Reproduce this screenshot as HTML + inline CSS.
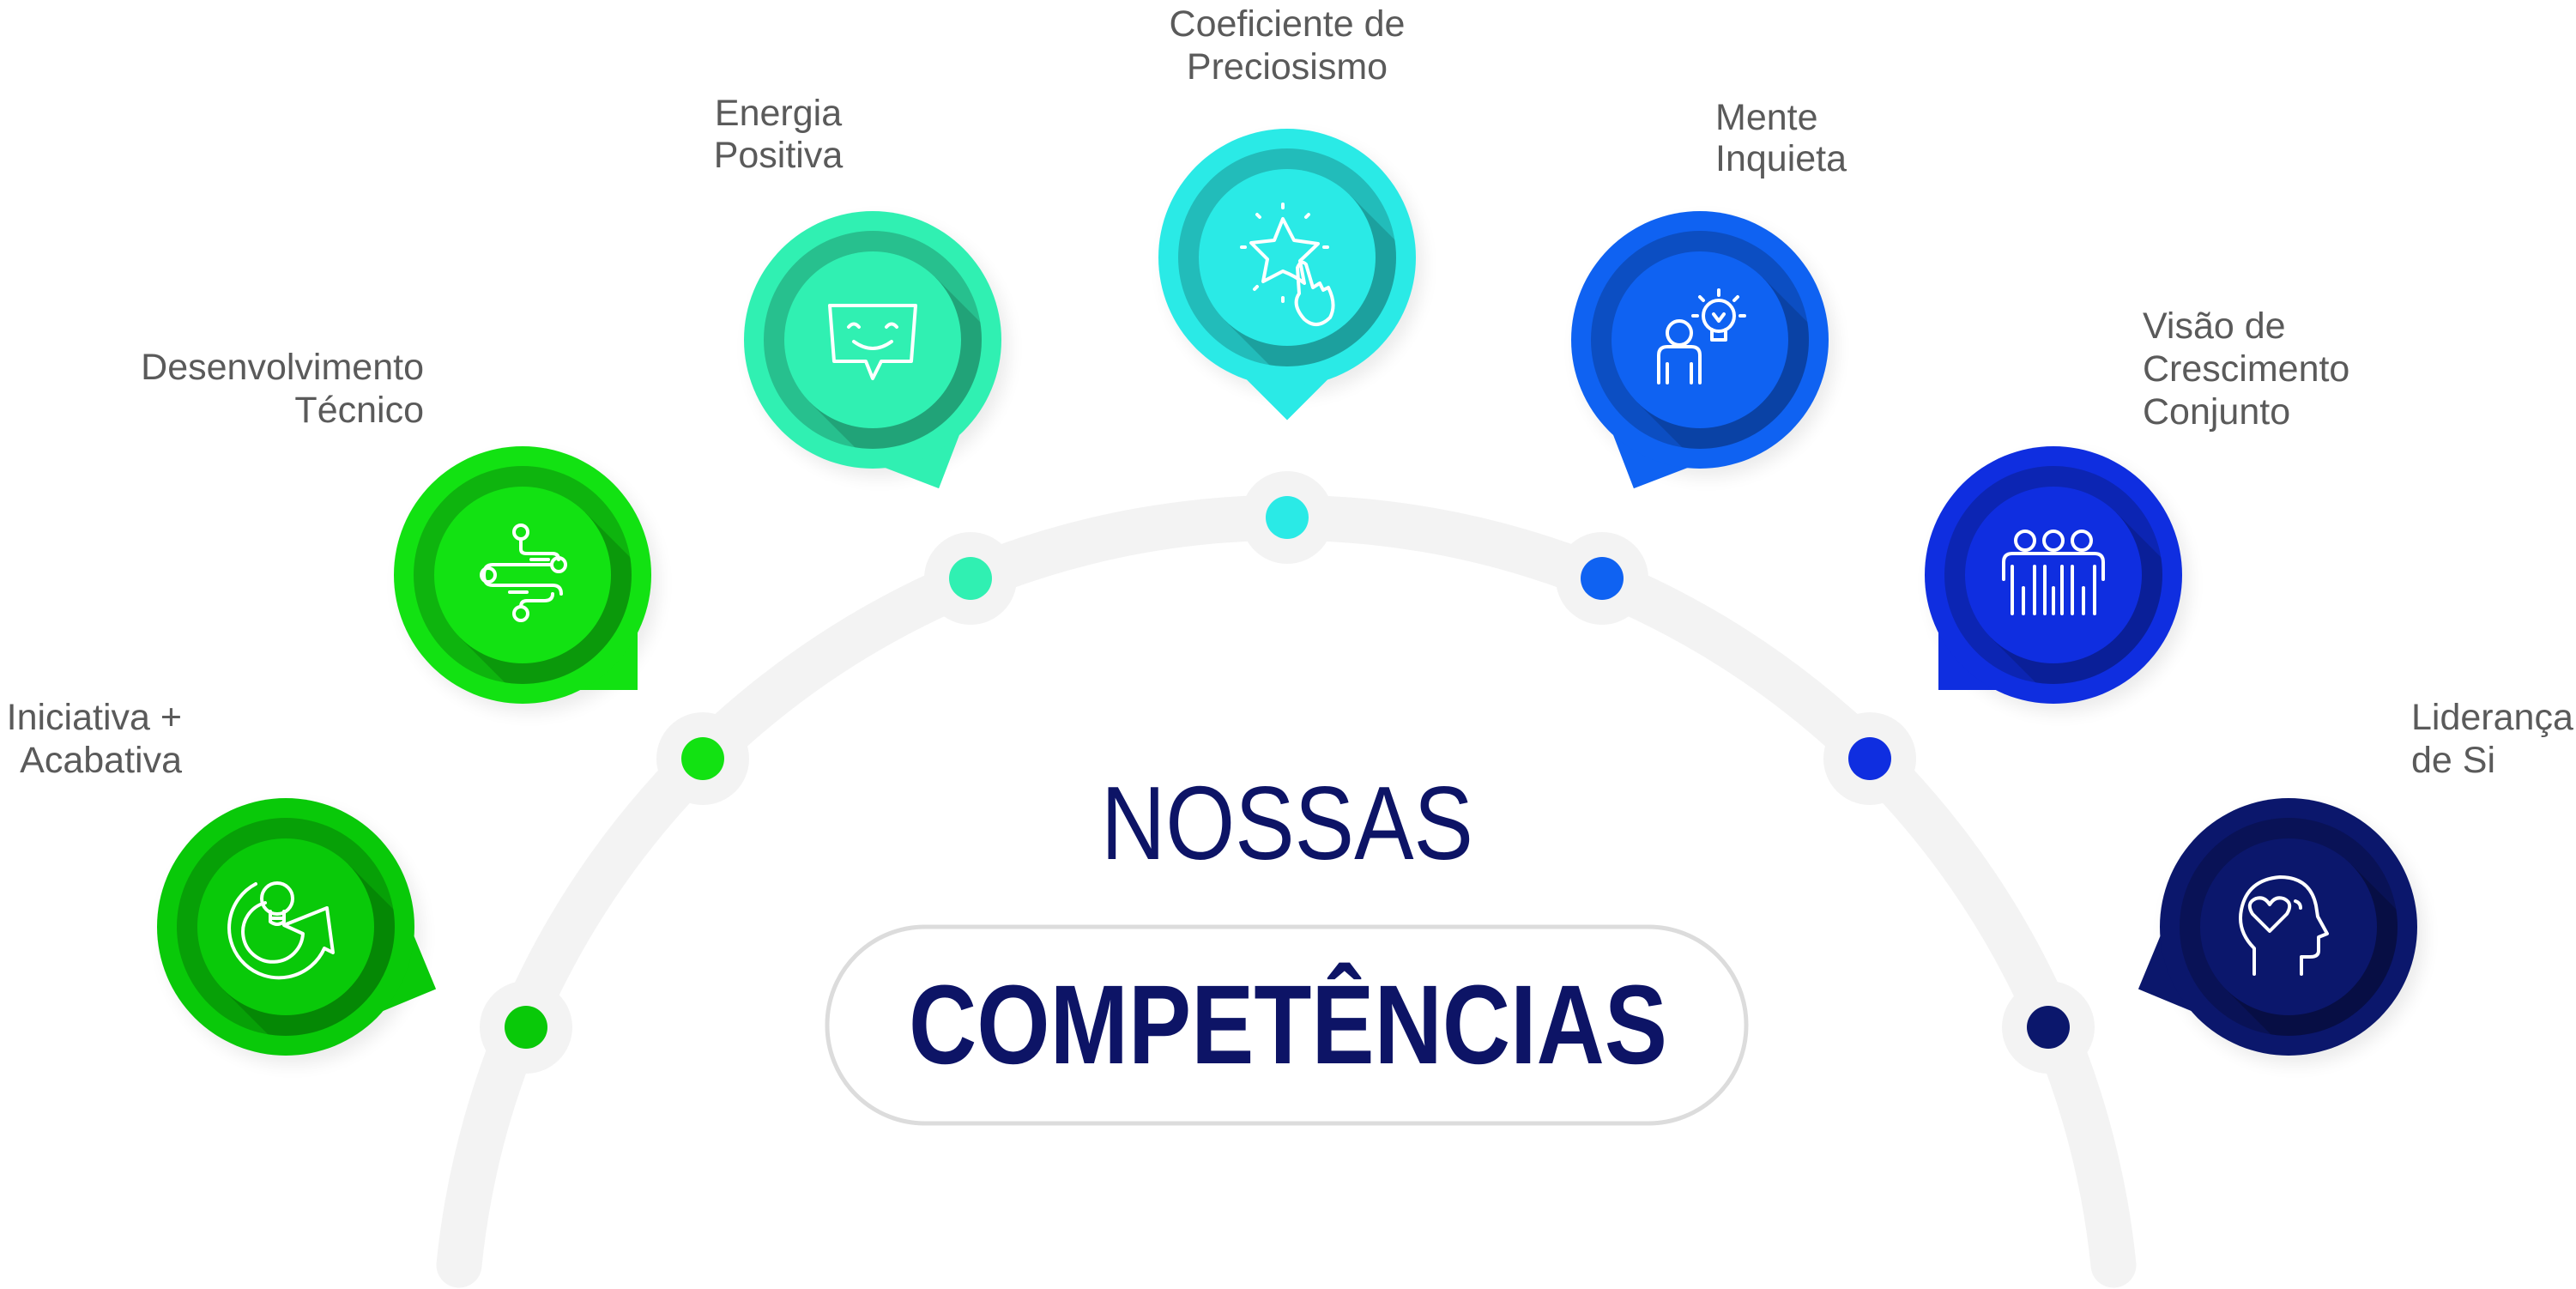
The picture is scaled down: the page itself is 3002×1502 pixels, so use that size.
<!DOCTYPE html>
<html><head><meta charset="utf-8">
<style>
html,body{margin:0;padding:0;background:#fff;width:3002px;height:1502px;overflow:hidden}
svg{display:block}
.lbl{font-family:"Liberation Sans",sans-serif;font-size:43px;fill:#5a5a5a}
.ic{fill:none;stroke:#fff;stroke-width:4;stroke-linecap:round;stroke-linejoin:round}
</style></head><body>
<svg width="3002" height="1502" viewBox="0 0 3002 1502" xmlns="http://www.w3.org/2000/svg">
<defs>
<clipPath id="rc"><circle cx="0" cy="0" r="127"/></clipPath>
<filter id="bl" x="-50%" y="-50%" width="200%" height="200%"><feGaussianBlur stdDeviation="10"/></filter>
</defs>

<path d="M535,1474 A969,969 0 0 1 2463,1474" fill="none" stroke="#f3f3f3" stroke-width="53" stroke-linecap="round"/>

<g>
<circle cx="613" cy="1197" r="54" fill="#f3f3f3"/><circle cx="613" cy="1197" r="25" fill="#09c909"/>
<circle cx="819" cy="884" r="54" fill="#f3f3f3"/><circle cx="819" cy="884" r="25" fill="#12e212"/>
<circle cx="1131" cy="674" r="54" fill="#f3f3f3"/><circle cx="1131" cy="674" r="25" fill="#30f0b2"/>
<circle cx="1500" cy="603" r="54" fill="#f3f3f3"/><circle cx="1500" cy="603" r="25" fill="#2aeae6"/>
<circle cx="1867" cy="674" r="54" fill="#f3f3f3"/><circle cx="1867" cy="674" r="25" fill="#0f62f2"/>
<circle cx="2179" cy="884" r="54" fill="#f3f3f3"/><circle cx="2179" cy="884" r="25" fill="#0f2ee0"/>
<circle cx="2387" cy="1197" r="54" fill="#f3f3f3"/><circle cx="2387" cy="1197" r="25" fill="#0b176c"/>
</g>

<g transform="translate(333,1080)">
<circle cx="8" cy="10" r="150" fill="#000" opacity="0.08" filter="url(#bl)"/>
<rect x="0" y="0" width="134" height="134" fill="#09c909" transform="rotate(-22.5)"/>
<circle r="150" fill="#09c909"/>
<circle r="127" fill="#07a007"/>
<g clip-path="url(#rc)"><polygon points="-73,73 73,-73 273,127 127,273" fill="#000" opacity="0.15"/></g>
<circle r="103" fill="#09c909"/>
<g class="ic">
<path d="M-35,-50 A58,58 0 1 0 45,25 L55,30 L48,-22 L-2,-2 L20,8 A35,35 0 1 1 -24,-28"/>
<circle cx="-10" cy="-33" r="18"/><path d="M-18,-18 L-18,-6 Q-10,0 -2,-6 L-2,-18 M-18,-10 L-2,-10"/>
</g>
</g>

<g transform="translate(609,670)">
<circle cx="8" cy="10" r="150" fill="#000" opacity="0.08" filter="url(#bl)"/>
<rect x="0" y="0" width="134" height="134" fill="#12e212"/>
<circle r="150" fill="#12e212"/>
<circle r="127" fill="#0eb40e"/>
<g clip-path="url(#rc)"><polygon points="-73,73 73,-73 273,127 127,273" fill="#000" opacity="0.15"/></g>
<circle r="103" fill="#12e212"/>
<g class="ic">
<circle cx="-2" cy="-50" r="8"/><path d="M-2,-42 L-2,-30 Q-2,-25 5,-25 L35,-25 Q42,-25 42,-18"/>
<circle cx="42" cy="-12" r="8"/><path d="M34,-12 L-35,-12 Q-45,-12 -45,0 Q-45,12 -35,12 L35,12 Q45,12 45,22"/>
<circle cx="-40" cy="0" r="8"/><path d="M35,22 Q35,30 25,30 L5,30 Q-2,30 -2,37"/><circle cx="-2" cy="45" r="8"/>
<path d="M10,-18 L30,-18 M-15,20 L5,20"/>
</g>
</g>

<g transform="translate(1017,396)">
<circle cx="8" cy="10" r="150" fill="#000" opacity="0.08" filter="url(#bl)"/>
<rect x="0" y="0" width="134" height="134" fill="#30f0b2" transform="rotate(21)"/>
<circle r="150" fill="#30f0b2"/>
<circle r="127" fill="#27c08e"/>
<g clip-path="url(#rc)"><polygon points="-73,73 73,-73 273,127 127,273" fill="#000" opacity="0.15"/></g>
<circle r="103" fill="#30f0b2"/>
<g class="ic">
<path d="M-50,-40 L50,-40 L45,25 L10,25 L0,45 L-8,25 L-45,25 Z"/>
<path d="M-28,-15 Q-22,-22 -16,-15 M16,-15 Q22,-22 28,-15 M-22,2 Q0,18 22,2"/>
</g>
</g>

<g transform="translate(1500,300)">
<circle cx="8" cy="10" r="150" fill="#000" opacity="0.08" filter="url(#bl)"/>
<rect x="0" y="0" width="134" height="134" fill="#2aeae6" transform="rotate(45)"/>
<circle r="150" fill="#2aeae6"/>
<circle r="127" fill="#22bcba"/>
<g clip-path="url(#rc)"><polygon points="-73,73 73,-73 273,127 127,273" fill="#000" opacity="0.15"/></g>
<circle r="103" fill="#2aeae6"/>
<g class="ic">
<path d="M-5,-45 L8,-20 L36,-16 L15,4 L20,30 Q10,22 -5,16 L-28,28 L-23,2 L-42,-17 L-15,-20 Z"/>
<path d="M-5,-62 L-5,-58 M-35,-50 L-32,-47 M25,-50 L22,-47 M-53,-12 L-49,-12 M43,-12 L47,-12 M-38,37 L-35,34 M-5,47 L-5,51"/>
<path d="M14,42 Q5,55 20,72 Q35,85 50,70 Q58,55 48,35 L42,38 L38,30 L30,35 L22,8 Q16,2 12,12 Z"/>
</g>
</g>

<g transform="translate(1981,396)">
<circle cx="8" cy="10" r="150" fill="#000" opacity="0.08" filter="url(#bl)"/>
<rect x="0" y="0" width="134" height="134" fill="#0f62f2" transform="rotate(69)"/>
<circle r="150" fill="#0f62f2"/>
<circle r="127" fill="#0c4ec2"/>
<g clip-path="url(#rc)"><polygon points="-73,73 73,-73 273,127 127,273" fill="#000" opacity="0.15"/></g>
<circle r="103" fill="#0f62f2"/>
<g class="ic">
<circle cx="-24" cy="-8" r="14"/><path d="M-48,50 L-48,18 Q-48,8 -38,8 L-10,8 Q0,8 0,18 L0,50 M-38,28 L-38,50 M-10,28 L-10,50"/>
<circle cx="22" cy="-28" r="18"/><path d="M14,-12 L14,0 L30,0 L30,-12 M16,-30 L22,-22 L28,-30"/>
<path d="M22,-58 L22,-52 M0,-50 L4,-46 M44,-50 L40,-46 M-8,-28 L-3,-28 M47,-28 L52,-28"/>
</g>
</g>

<g transform="translate(2393,670)">
<circle cx="8" cy="10" r="150" fill="#000" opacity="0.08" filter="url(#bl)"/>
<rect x="0" y="0" width="134" height="134" fill="#0f2ee0" transform="rotate(90)"/>
<circle r="150" fill="#0f2ee0"/>
<circle r="127" fill="#0c25b3"/>
<g clip-path="url(#rc)"><polygon points="-73,73 73,-73 273,127 127,273" fill="#000" opacity="0.15"/></g>
<circle r="103" fill="#0f2ee0"/>
<g class="ic">
<circle cx="-33" cy="-40" r="11"/><circle cx="0" cy="-40" r="11"/><circle cx="33" cy="-40" r="11"/>
<path d="M-58,5 L-58,-15 Q-58,-25 -48,-25 L48,-25 Q58,-25 58,-15 L58,5 M-48,-10 L-48,45 M-22,-10 L-22,45 M-10,-10 L-10,45 M10,-10 L10,45 M22,-10 L22,45 M48,-10 L48,45 M-35,15 L-35,45 M35,15 L35,45 M0,15 L0,45"/>
</g>
</g>

<g transform="translate(2667,1080)">
<circle cx="8" cy="10" r="150" fill="#000" opacity="0.08" filter="url(#bl)"/>
<rect x="0" y="0" width="134" height="134" fill="#0b176c" transform="rotate(112.5)"/>
<circle r="150" fill="#0b176c"/>
<circle r="127" fill="#091256"/>
<g clip-path="url(#rc)"><polygon points="-73,73 73,-73 273,127 127,273" fill="#000" opacity="0.2"/></g>
<circle r="103" fill="#0b176c"/>
<g class="ic">
<path d="M-40,55 L-40,25 Q-60,5 -55,-20 Q-48,-55 -10,-58 Q25,-58 32,-25 L34,-12 L45,8 L35,12 L35,28 Q35,35 25,35 L15,35 L15,55"/>
<path d="M-22,5 L-42,-15 Q-50,-28 -38,-33 Q-28,-36 -22,-26 Q-16,-36 -6,-33 Q6,-28 -2,-15 Z"/>
<path d="M8,-30 Q14,-28 14,-22"/>
</g>
</g>

<text class="lbl" x="212" y="850" text-anchor="end">Iniciativa +</text>
<text class="lbl" x="212" y="900" text-anchor="end">Acabativa</text>
<text class="lbl" x="494" y="442" text-anchor="end">Desenvolvimento</text>
<text class="lbl" x="494" y="492" text-anchor="end">Técnico</text>
<text class="lbl" x="907" y="146" text-anchor="middle">Energia</text>
<text class="lbl" x="907" y="195" text-anchor="middle">Positiva</text>
<text class="lbl" x="1500" y="42" text-anchor="middle">Coeficiente de</text>
<text class="lbl" x="1500" y="92" text-anchor="middle">Preciosismo</text>
<text class="lbl" x="1999" y="151">Mente</text>
<text class="lbl" x="1999" y="199">Inquieta</text>
<text class="lbl" x="2497" y="394">Visão de</text>
<text class="lbl" x="2497" y="444">Crescimento</text>
<text class="lbl" x="2497" y="494">Conjunto</text>
<text class="lbl" x="2810" y="850">Liderança</text>
<text class="lbl" x="2810" y="900">de Si</text>

<text x="1283" y="1001" font-family="Liberation Sans, sans-serif" font-size="122" fill="#0d1466" textLength="434" lengthAdjust="spacingAndGlyphs">NOSSAS</text>
<rect x="964" y="1080" width="1071" height="229" rx="114" fill="#fff" stroke="#dcdcdc" stroke-width="5"/>
<text x="1059" y="1239" font-family="Liberation Sans, sans-serif" font-weight="bold" font-size="131" fill="#0d1466" textLength="884" lengthAdjust="spacingAndGlyphs">COMPETÊNCIAS</text>
</svg>
</body></html>
